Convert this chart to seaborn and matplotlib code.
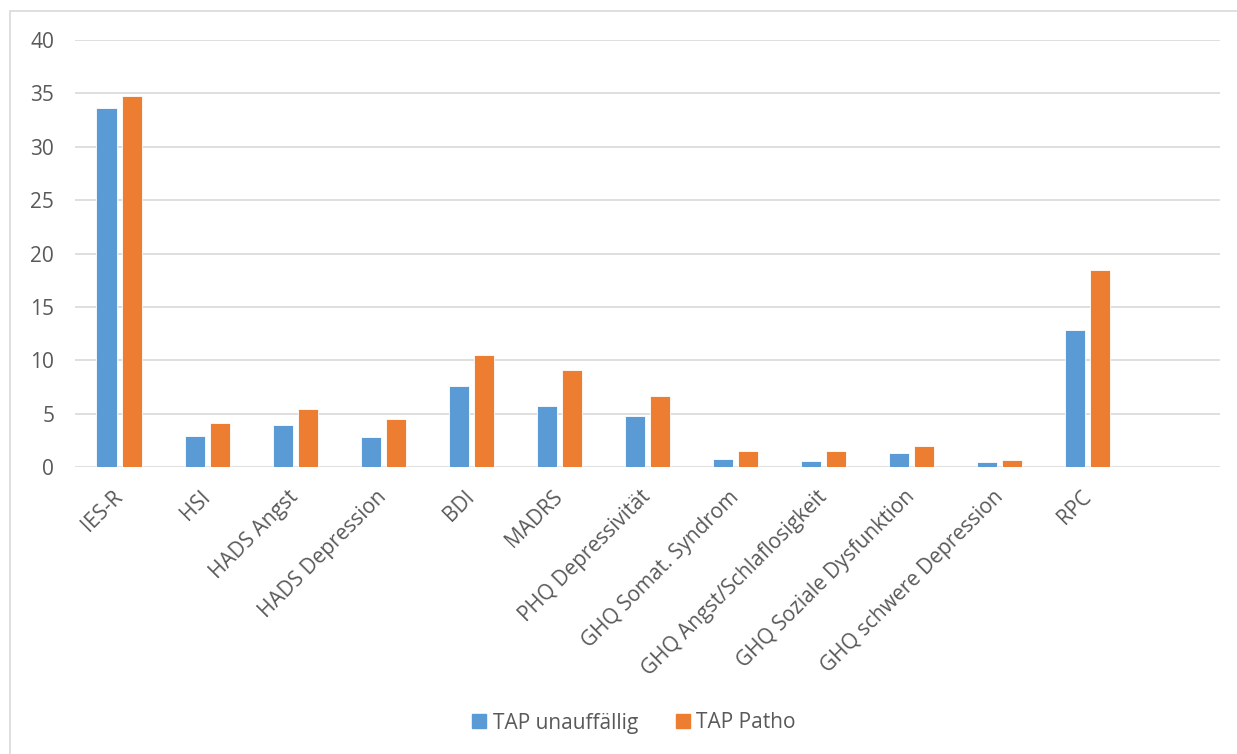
import pandas as pd
import matplotlib.pyplot as plt
import matplotlib.transforms as mtransforms
import seaborn as sns
from matplotlib.patches import Rectangle
from matplotlib.lines import Line2D

# Werte
categories = ['IES-R', 'HSI', 'HADS Angst', 'HADS Depression', 'BDI', 'MADRS',
              'PHQ Depressivität', 'GHQ Somat. Syndrom', 'GHQ Angst/Schlaflosigkeit',
              'GHQ Soziale Dysfunktion', 'GHQ schwere Depression', 'RPC']
unauffaellig = [33.65, 2.94, 3.94, 2.85, 7.59, 5.75, 4.78, 0.79, 0.53, 1.28, 0.44, 12.84]
patho = [34.77, 4.16, 5.41, 4.47, 10.53, 9.13, 6.69, 1.54, 1.54, 1.94, 0.66, 18.43]
series = ['TAP unauffällig', 'TAP Patho']
colors = ['#5B9BD5', '#ED7D31']
yticks = [0, 5, 10, 15, 20, 25, 30, 35, 40]

df = pd.DataFrame({
    'Kategorie': categories * 2,
    'Wert': unauffaellig + patho,
    'Gruppe': [series[0]] * len(categories) + [series[1]] * len(categories),
})

sns.set_theme(style='white')
plt.rcParams['font.family'] = ['Open Sans', 'DejaVu Sans']
text_col = '#595959'

fig = plt.figure(figsize=(12.37, 7.54), dpi=100)
ax = fig.add_axes([75 / 1237, 1 - 467 / 754, (1220 - 75) / 1237, (467 - 40) / 754])

sns.barplot(data=df, x='Kategorie', y='Wert', hue='Gruppe', order=categories,
            hue_order=series, palette=colors, saturation=1, width=0.57, gap=0.2,
            edgecolor='white', linewidth=0.6, legend=False, ax=ax)

ax.set_xlim(-0.5, len(categories) + 0.5)
ax.set_ylim(0, 40)
ax.set_yticks(yticks)
ax.yaxis.grid(True, color='#D9D9D9', linewidth=1.2)
ax.set_axisbelow(True)
for s in ax.spines.values():
    s.set_visible(False)
ax.tick_params(axis='both', length=0, colors=text_col, labelsize=15)
ax.tick_params(axis='y', pad=15)
ax.tick_params(axis='x', pad=9)
ax.set_xticks(range(len(categories)))
ax.set_xticklabels(categories, rotation=45, ha='right', rotation_mode='anchor')
shift = mtransforms.ScaledTranslation(-0.07, -0.07, fig.dpi_scale_trans)
for lbl in ax.get_xticklabels():
    lbl.set_transform(lbl.get_transform() + shift)
ax.set_xlabel('')
ax.set_ylabel('')

handles = [Line2D([], [], marker='s', ls='', color=c, markersize=10) for c in colors]
fig.legend(handles, series, loc='center', bbox_to_anchor=(634 / 1237, 1 - 723 / 754),
           ncol=2, frameon=False, fontsize=15, handlelength=0.7,
           handletextpad=0.3, columnspacing=1.8, labelcolor=text_col)

# Rahmen des Diagrammbereichs
fig.patches.append(Rectangle((10 / 1237, -0.1), 1.2, 1 - 11 / 754 + 0.1,
                             transform=fig.transFigure, fill=False,
                             edgecolor='#D9D9D9', linewidth=1.2))

fig.savefig('out.png', dpi=100)
